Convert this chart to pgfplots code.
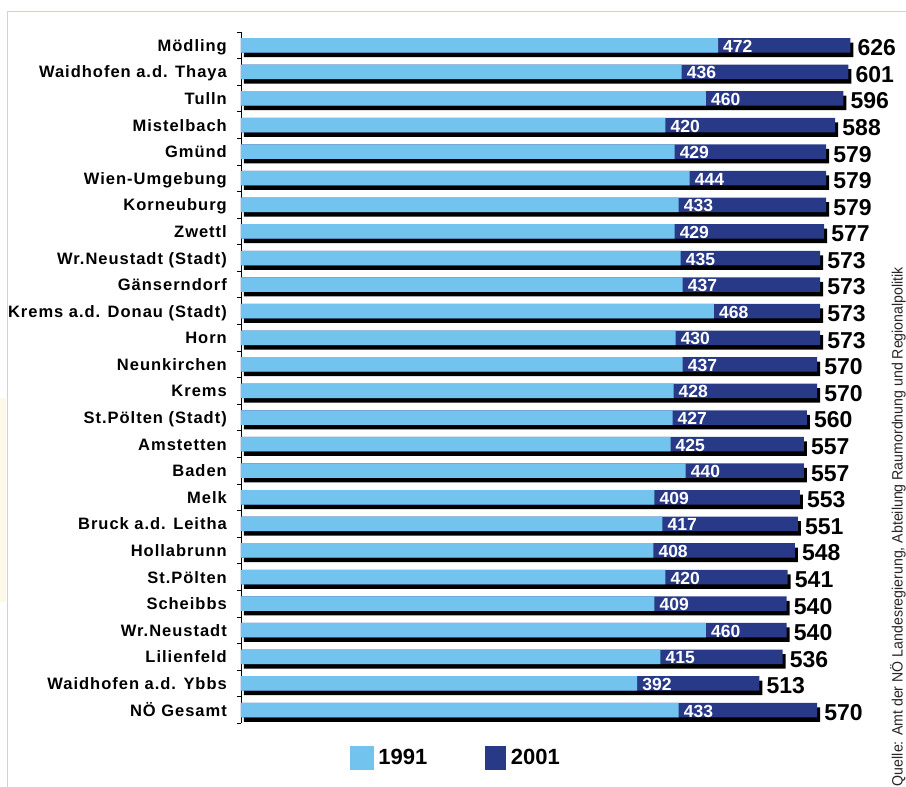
\documentclass[border=0pt]{standalone}
\usepackage{fontspec}
\setmainfont{Liberation Sans}
\newfontfamily\lblfont[LetterSpace=6]{Liberation Sans}
\usepackage{graphicx}
\usepackage{pgfplots}
\pgfplotsset{compat=1.18}
\usepackage{pgfplotstable}
\usetikzlibrary{shadows}
\definecolor{lightb}{RGB}{114,196,238}
\definecolor{darkb}{RGB}{40,57,136}
\definecolor{framec}{RGB}{205,210,225}
\definecolor{beige}{RGB}{253,249,232}

\pgfplotstableread{
pos v91 v01
0 472 626
1 436 601
2 460 596
3 420 588
4 429 579
5 444 579
6 433 579
7 429 577
8 435 573
9 437 573
10 468 573
11 430 573
12 437 570
13 428 570
14 427 560
15 425 557
16 440 557
17 409 553
18 417 551
19 408 548
20 420 541
21 409 540
22 460 540
23 415 536
24 392 513
25 433 570
}\data

\begin{document}
\begin{tikzpicture}
\useasboundingbox (0,0) rectangle (906pt,787pt);
\fill[white] (0,0) rectangle (906pt,787pt);
\fill[beige] (0,185pt) rectangle (6pt,389pt);
\draw[framec, line width=1.2pt] (7.5pt,0) -- (7.5pt,775.5pt) -- (906pt,775.5pt);
\begin{axis}[
  at={(241pt,63.7pt)}, anchor=south west,
  scale only axis, width=609.4pt, height=691.3pt,
  xmin=0, xmax=603, ymin=-0.5, ymax=25.5, y dir=reverse,
  axis x line=none, axis y line*=left,
  y axis line style={-, black, line width=0.8pt},
  clip=false,
  ytick={0,...,25},
  yticklabels={M\"odling, Waidhofen a.d. Thaya, Tulln, Mistelbach, Gm\"und, Wien-Umgebung, Korneuburg, Zwettl, Wr.Neustadt (Stadt), G\"anserndorf, Krems a.d. Donau (Stadt), Horn, Neunkirchen, Krems, St.P\"olten (Stadt), Amstetten, Baden, Melk, Bruck a.d. Leitha, Hollabrunn, St.P\"olten, Scheibbs, Wr.Neustadt, Lilienfeld, Waidhofen a.d. Ybbs, N\"O Gesamt},
  major tick length=0pt,
  ytick align=outside,
  extra y ticks={-0.5,0.5,...,25.5},
  extra y tick labels={},
  extra y tick style={major tick length=4pt, tick style={black, line width=0.8pt}},
  yticklabel style={font=\lblfont\bfseries\fontsize{16.5}{16.5}\selectfont, text=black, anchor=base east, inner sep=0pt, xshift=-14pt, yshift=-6pt},
  /pgf/number format/assume math mode=true,
  legend columns=2,
  legend style={at={(axis description cs:0.179,-0.0495)}, anchor=west, draw=none, fill=none, inner sep=0pt, outer sep=0pt, font=\fontsize{22}{22}\selectfont\bfseries, nodes={inner sep=0pt}, /tikz/every odd column/.append style={column sep=5pt}, /tikz/every even column/.append style={column sep=58pt}},
  legend cell align=left,
]
\addlegendimage{legend image code/.code={\fill[lightb] (0pt,-11.5pt) rectangle (23pt,11.5pt);}}
\addlegendentry{1991}
\addlegendimage{legend image code/.code={\fill[darkb] (0pt,-11.5pt) rectangle (20pt,11.5pt);}}
\addlegendentry{2001}

\addplot[xbar, bar width=14.5pt, bar shift=0pt, fill=darkb, draw=none, forget plot,
  drop shadow={shadow xshift=3pt, shadow yshift=-4.5pt, fill=black, opacity=1},
  restrict x to domain*=0:603,
  nodes near coords, nodes near coords align=horizontal, point meta=explicit,
  every node near coord/.append style={font=\fontsize{23}{23}\selectfont\bfseries, text=black, anchor=west, inner sep=0pt, xshift=7pt, yshift=-2.5pt}]
  table[x=v01, y=pos, meta=v01]{\data};

\addplot[xbar, bar width=14.5pt, bar shift=0pt, fill=lightb, draw=none, forget plot,
  nodes near coords, nodes near coords align=horizontal, point meta=explicit,
  every node near coord/.append style={font=\fontsize{17.5}{17.5}\selectfont\bfseries, text=white, anchor=west, inner sep=0pt, xshift=5pt, yshift=-1pt}]
  table[x=v91, y=pos, meta=v91]{\data};
\end{axis}
\node[rotate=90, font=\fontsize{15}{15}\selectfont, text=black!85, inner sep=0pt] at (898pt,260.5pt) {\resizebox{519pt}{\height}{Quelle: Amt der N\"O Landesregierung, Abteilung Raumordnung und Regionalpolitik}};
\end{tikzpicture}
\end{document}
